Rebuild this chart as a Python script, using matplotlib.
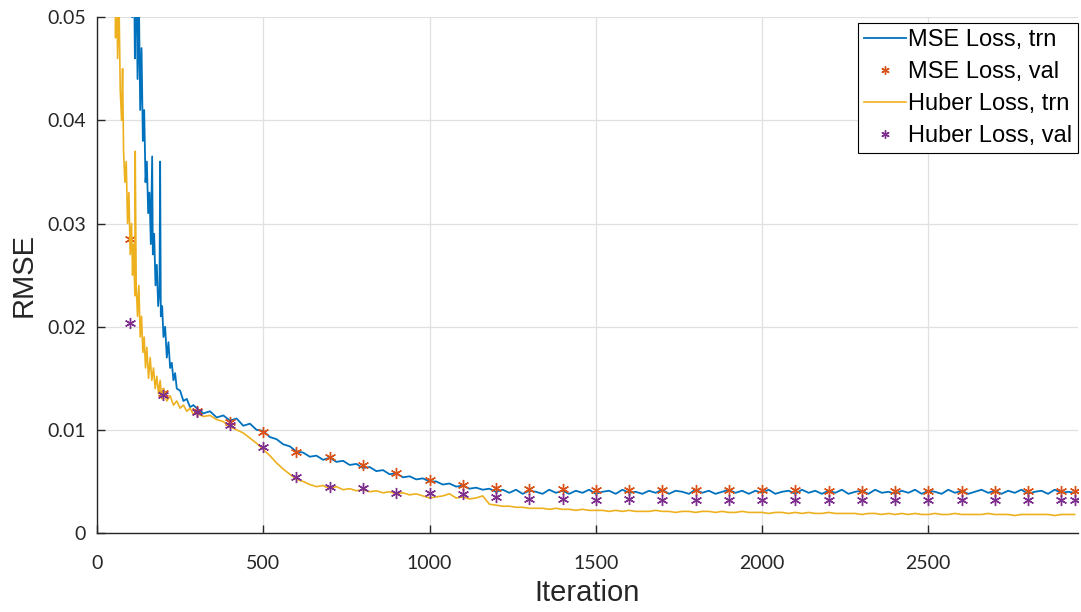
import numpy as np
import matplotlib.pyplot as plt

# MATLAB default colours
c_blue = (0, 0.447, 0.741)
c_orange = (0.85, 0.325, 0.098)
c_yellow = (0.929, 0.694, 0.125)
c_purple = (0.494, 0.184, 0.556)

# ---- training curves, early part ----
mse_trn_iter_early = [1, 100, 106, 110, 114, 118, 122, 126, 130, 134,
                      138, 142, 146, 150, 154, 158, 162, 166, 168, 172,
                      176, 180, 184, 188, 190, 192, 196, 200, 205, 210,
                      215, 220, 225, 230, 235, 240, 250, 260, 270, 280, 290]
mse_trn_early = [0.30, 0.070, 0.050, 0.060, 0.046, 0.056, 0.044, 0.052, 0.041, 0.047,
                 0.038, 0.041, 0.034, 0.036, 0.031, 0.033, 0.028, 0.0365, 0.027, 0.029,
                 0.024, 0.026, 0.022, 0.0235, 0.036, 0.021, 0.022, 0.019, 0.020, 0.017,
                 0.0185, 0.016, 0.0165, 0.0148, 0.0155, 0.0140, 0.0138, 0.0128, 0.0130, 0.0122,
                 0.0124]

huber_trn_iter_early = [1, 50, 56, 59, 62, 66, 70, 74, 77, 80,
                        84, 88, 92, 96, 100, 104, 107, 110, 114, 115,
                        118, 122, 126, 130, 134, 138, 142, 146, 150, 155,
                        160, 165, 170, 175, 180, 185, 190, 195, 200, 210,
                        220, 230, 240, 250, 260, 270, 280, 290]
huber_trn_early = [0.25, 0.070, 0.048, 0.056, 0.046, 0.052, 0.043, 0.040, 0.045, 0.037,
                   0.034, 0.036, 0.030, 0.033, 0.027, 0.030, 0.025, 0.028, 0.023, 0.037,
                   0.024, 0.021, 0.024, 0.019, 0.021, 0.0175, 0.019, 0.016, 0.018, 0.015,
                   0.017, 0.0148, 0.016, 0.014, 0.0152, 0.0135, 0.0148, 0.0130, 0.0140, 0.0128,
                   0.0133, 0.0124, 0.0128, 0.0121, 0.0124, 0.0118, 0.0121, 0.0115]

# ---- training curves, iterations 300..2940 every 20 ----
trn_iter_late = np.arange(300, 2941, 20)
mse_trn_late = [
    0.0121, 0.0116, 0.0118, 0.0112, 0.0114, 0.0109, 0.0111, 0.0104, 0.0106, 0.0100,
    0.0099, 0.0093, 0.0091, 0.0086, 0.0084, 0.0079, 0.0078, 0.0074, 0.0075, 0.0071,
    0.0073, 0.0069, 0.0070, 0.0066, 0.0067, 0.0063, 0.0064, 0.0060, 0.0061, 0.0057,
    0.0058, 0.0054, 0.0055, 0.0052, 0.0053, 0.0050, 0.0050, 0.0047, 0.0048, 0.0045,
    0.0046, 0.0043, 0.0044, 0.0042, 0.0043, 0.0040, 0.0042,
    0.0039, 0.0042, 0.0038, 0.0041, 0.0040, 0.0038, 0.0042, 0.0039, 0.0041, 0.0038,
    0.0041, 0.0039, 0.0042, 0.0038, 0.0040, 0.0041, 0.0038, 0.0042, 0.0039, 0.0040,
    0.0038, 0.0041, 0.0039, 0.0042, 0.0038, 0.0041, 0.0040, 0.0038, 0.0042, 0.0039,
    0.0041, 0.0038, 0.0040, 0.0042, 0.0039, 0.0041, 0.0038, 0.0041, 0.0039, 0.0042,
    0.0038, 0.0040, 0.0041, 0.0038, 0.0042, 0.0039, 0.0041, 0.0038, 0.0041, 0.0039,
    0.0042, 0.0038, 0.0040, 0.0041, 0.0038, 0.0042, 0.0039, 0.0040, 0.0038, 0.0041,
    0.0039, 0.0042, 0.0038, 0.0041, 0.0040, 0.0038, 0.0042, 0.0039, 0.0041, 0.0038,
    0.0040, 0.0042, 0.0039, 0.0041, 0.0038, 0.0041, 0.0039, 0.0042, 0.0038, 0.0040,
    0.0041, 0.0038, 0.0042, 0.0039, 0.0040, 0.0039]
huber_trn_late = [
    0.0116, 0.0113, 0.0114, 0.0110, 0.0108, 0.0103, 0.0100, 0.0097, 0.0092, 0.0087,
    0.0081, 0.0075, 0.0068, 0.0062, 0.0057, 0.0052, 0.0050, 0.0047, 0.0045, 0.0046,
    0.0043, 0.0045, 0.0042, 0.0043, 0.0041, 0.0042, 0.0040, 0.0041, 0.0039, 0.0040,
    0.0038, 0.0039, 0.0037, 0.0038, 0.0036, 0.0034, 0.0035, 0.0036, 0.0038, 0.0034,
    0.0035, 0.0033, 0.0034, 0.0036, 0.0028, 0.0027, 0.0026,
    0.0026, 0.0025, 0.0025, 0.0024, 0.0024, 0.0024, 0.0023, 0.0024, 0.0023, 0.0023,
    0.0022, 0.0023, 0.0022, 0.0022, 0.0022, 0.0021, 0.0022, 0.0021, 0.0022, 0.0021,
    0.0021, 0.0021, 0.0022, 0.0021, 0.0021, 0.0020, 0.0021, 0.0021, 0.0020, 0.0021,
    0.0021, 0.0020, 0.0021, 0.0020, 0.0020, 0.0021, 0.0020, 0.0020, 0.0020, 0.0019,
    0.0020, 0.0020, 0.0019, 0.0020, 0.0019, 0.0020, 0.0019, 0.0019, 0.0020, 0.0019,
    0.0019, 0.0019, 0.0019, 0.0018, 0.0019, 0.0019, 0.0018, 0.0019, 0.0018, 0.0019,
    0.0018, 0.0019, 0.0018, 0.0018, 0.0019, 0.0018, 0.0018, 0.0019, 0.0018, 0.0018,
    0.0018, 0.0018, 0.0019, 0.0018, 0.0018, 0.0018, 0.0017, 0.0018, 0.0018, 0.0018,
    0.0018, 0.0018, 0.0017, 0.0018, 0.0018, 0.0018]

# ---- validation points ----
val_iter = [100, 200, 300, 400, 500, 600, 700, 800, 900, 1000,
            1100, 1200, 1300, 1400, 1500, 1600, 1700, 1800, 1900, 2000,
            2100, 2200, 2300, 2400, 2500, 2600, 2700, 2800, 2900, 2940]
mse_val = [0.0285, 0.0136, 0.0118, 0.0108, 0.0098, 0.0079, 0.0074, 0.0066, 0.0058, 0.0051,
           0.0047, 0.0044, 0.0043, 0.0043, 0.0042, 0.0042, 0.0042, 0.0042, 0.0042, 0.0042,
           0.0042, 0.0041, 0.0041, 0.0041, 0.0041, 0.0041, 0.0041, 0.0041, 0.0041, 0.0041]
huber_val = [0.0204, 0.0134, 0.0117, 0.0105, 0.0083, 0.0054, 0.0045, 0.0044, 0.0039, 0.0039,
             0.0038, 0.0035, 0.0033, 0.0033, 0.0032, 0.0033, 0.0032, 0.0032, 0.0032, 0.0032,
             0.0032, 0.0032, 0.0032, 0.0032, 0.0032, 0.0032, 0.0032, 0.0032, 0.0032, 0.0032]

x_ticks = [0, 500, 1000, 1500, 2000, 2500]
y_ticks = [0, 0.01, 0.02, 0.03, 0.04, 0.05]
y_ticklabels = ['0', '0.01', '0.02', '0.03', '0.04', '0.05']

mse_iter = list(mse_trn_iter_early) + list(trn_iter_late)
mse_trn = list(mse_trn_early) + list(mse_trn_late)
huber_iter = list(huber_trn_iter_early) + list(trn_iter_late)
huber_trn = list(huber_trn_early) + list(huber_trn_late)

fig = plt.figure(figsize=(10.81, 6.12), dpi=100)
ax = fig.add_axes([0.0897, 0.129, 0.9075, 0.843])

asterisk = (6, 2, 0)
ax.plot(mse_iter, mse_trn, color=c_blue, lw=1.3, label='MSE Loss, trn')
ax.plot(val_iter, mse_val, ls='none', marker=asterisk, ms=8, mew=1.0,
        color=c_orange, label='MSE Loss, val')
ax.plot(huber_iter, huber_trn, color=c_yellow, lw=1.2, label='Huber Loss, trn')
ax.plot(val_iter, huber_val, ls='none', marker=asterisk, ms=8, mew=1.0,
        color=c_purple, label='Huber Loss, val')

ax.set_xlim(0, 2950)
ax.set_ylim(0, 0.05)
ax.set_xticks(x_ticks)
ax.set_yticks(y_ticks)
ax.set_yticklabels(y_ticklabels)
ax.grid(True, color='#e0e0e0', lw=0.9)
ax.set_axisbelow(True)
for s in ['top', 'right']:
    ax.spines[s].set_visible(False)
for s in ['left', 'bottom']:
    ax.spines[s].set_color('#262626')
    ax.spines[s].set_linewidth(1.0)
ax.tick_params(direction='in', length=6, width=1.0, color='#262626',
               labelsize=14, labelcolor='#262626')
ax.tick_params(axis='x', pad=16)
ax.tick_params(axis='y', pad=8)
for lab in ax.get_xticklabels() + ax.get_yticklabels():
    lab.set_family('Lato')

ax.set_xlabel('Iteration', family='Liberation Sans', fontsize=21, color='#262626', labelpad=5)
ax.set_ylabel('RMSE', family='Liberation Sans', fontsize=21, color='#262626', labelpad=7)

leg = ax.legend(loc='upper right', bbox_to_anchor=(1.0, 0.988),
                prop={'family': 'Liberation Sans', 'size': 17},
                frameon=True, fancybox=False, edgecolor='black', framealpha=1,
                handlelength=1.75, handletextpad=0.1, labelspacing=0.42,
                borderpad=0.25, borderaxespad=0.0, markerscale=0.75)
leg.get_frame().set_linewidth(0.8)

fig.savefig('out.png', dpi=100)
